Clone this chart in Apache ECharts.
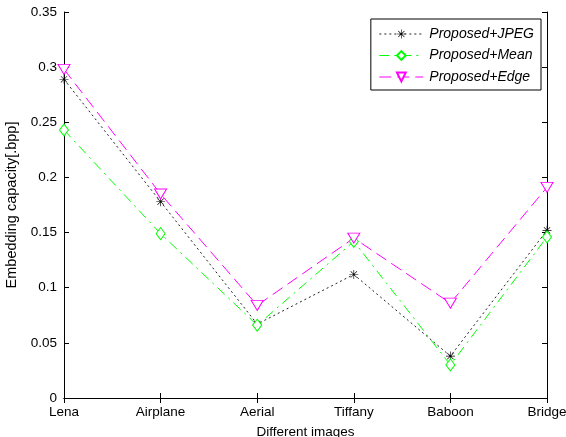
<!DOCTYPE html>
<html><head><meta charset="utf-8">
<script src="https://cdn.jsdelivr.net/npm/echarts@6/dist/echarts.min.js"></script>
<style>html,body{margin:0;padding:0;background:#fff}#c{width:566px;height:437px}</style>
</head><body><div id="c"></div>
<script>
const categories = ['Lena','Airplane','Aerial','Tiffany','Baboon','Bridge'];
const jpeg = [0.289, 0.178, 0.067, 0.112, 0.038, 0.152];
const mean = [0.243, 0.149, 0.066, 0.142, 0.030, 0.146];
const edge = [0.298, 0.185, 0.084, 0.145, 0.086, 0.191];
const yTicks = [0, 0.05, 0.1, 0.15, 0.2, 0.25, 0.3, 0.35];

const star = 'path://M9.3,0L10.7,0L10.7,20L9.3,20Z M0,9.3L20,9.3L20,10.7L0,10.7Z M2.5,3.5L3.5,2.5L17.5,16.5L16.5,17.5Z M16.5,2.5L17.5,3.5L3.5,17.5L2.5,16.5Z';
const font = 'Liberation Sans, Arial, sans-serif';
const chart = echarts.init(document.getElementById('c'), null, {renderer:'canvas'});
const axisLine = {show:true, lineStyle:{color:'#000', width:1}};
const tick = {show:true, inside:true, length:5, lineStyle:{color:'#000'}};
chart.setOption({
  animation:false,
  backgroundColor:'#fff',
  grid:{left:64, right:19, top:12, bottom:39, containLabel:false, outerBoundsMode:'none'},
  legend:{
    orient:'vertical', right:25, top:19, itemWidth:44, itemHeight:11, itemGap:5.5,
    padding:[7,7,5,8], borderColor:'#000', borderWidth:1, backgroundColor:'#fff',
    lineStyle:{width:1},
    textStyle:{fontFamily:font, fontSize:14, fontStyle:'italic', color:'#000', padding:[0,0,0,1], lineHeight:16},
    data:['Proposed+JPEG','Proposed+Mean','Proposed+Edge']
  },
  xAxis:[{
    type:'category', data:categories, boundaryGap:false,
    axisLine:axisLine, axisTick:tick,
    axisLabel:{color:'#000', fontFamily:font, fontSize:13.5, margin:7},
    splitLine:{show:false},
    name:'Different images', nameLocation:'middle', nameGap:27,
    nameTextStyle:{color:'#000', fontFamily:font, fontSize:13.5}
  },{
    type:'category', data:categories, boundaryGap:false, position:'top',
    axisLine:axisLine, axisTick:tick, axisLabel:{show:false}
  }],
  yAxis:[{
    type:'value', min:0, max:0.35, interval:0.05,
    axisLine:axisLine, axisTick:tick,
    axisLabel:{color:'#000', fontFamily:font, fontSize:13.5, margin:7,
      formatter:v=>{const t=yTicks.find(x=>Math.abs(x-v)<1e-9); return t===undefined?'':String(+t.toFixed(2));}},
    splitLine:{show:false},
    name:'Embedding capacity[.bpp]', nameLocation:'middle', nameGap:44,
    nameTextStyle:{color:'#000', fontFamily:font, fontSize:14.5}
  },{
    type:'value', min:0, max:0.35, interval:0.05, position:'right',
    axisLine:axisLine, axisTick:tick, axisLabel:{show:false}, splitLine:{show:false}
  }],
  series:[
    {name:'Proposed+JPEG', type:'line', data:jpeg, symbol:star, symbolSize:9,
     lineStyle:{color:'#222', width:1, type:[2,3]},
     itemStyle:{color:'#000', borderWidth:0}},
    {name:'Proposed+Mean', type:'line', data:mean, symbol:'diamond', symbolSize:[9,12],
     lineStyle:{color:'#00ff00', width:1, type:[10,5,2,5]},
     itemStyle:{color:'#fff', borderColor:'#00ff00', borderWidth:1}},
    {name:'Proposed+Edge', type:'line', data:edge, symbol:'triangle', symbolRotate:180, symbolSize:[12,10],
     lineStyle:{color:'#ff00ff', width:1, type:[12,6]},
     itemStyle:{color:'#fff', borderColor:'#ff00ff', borderWidth:1}}
  ]
});
</script></body></html>
